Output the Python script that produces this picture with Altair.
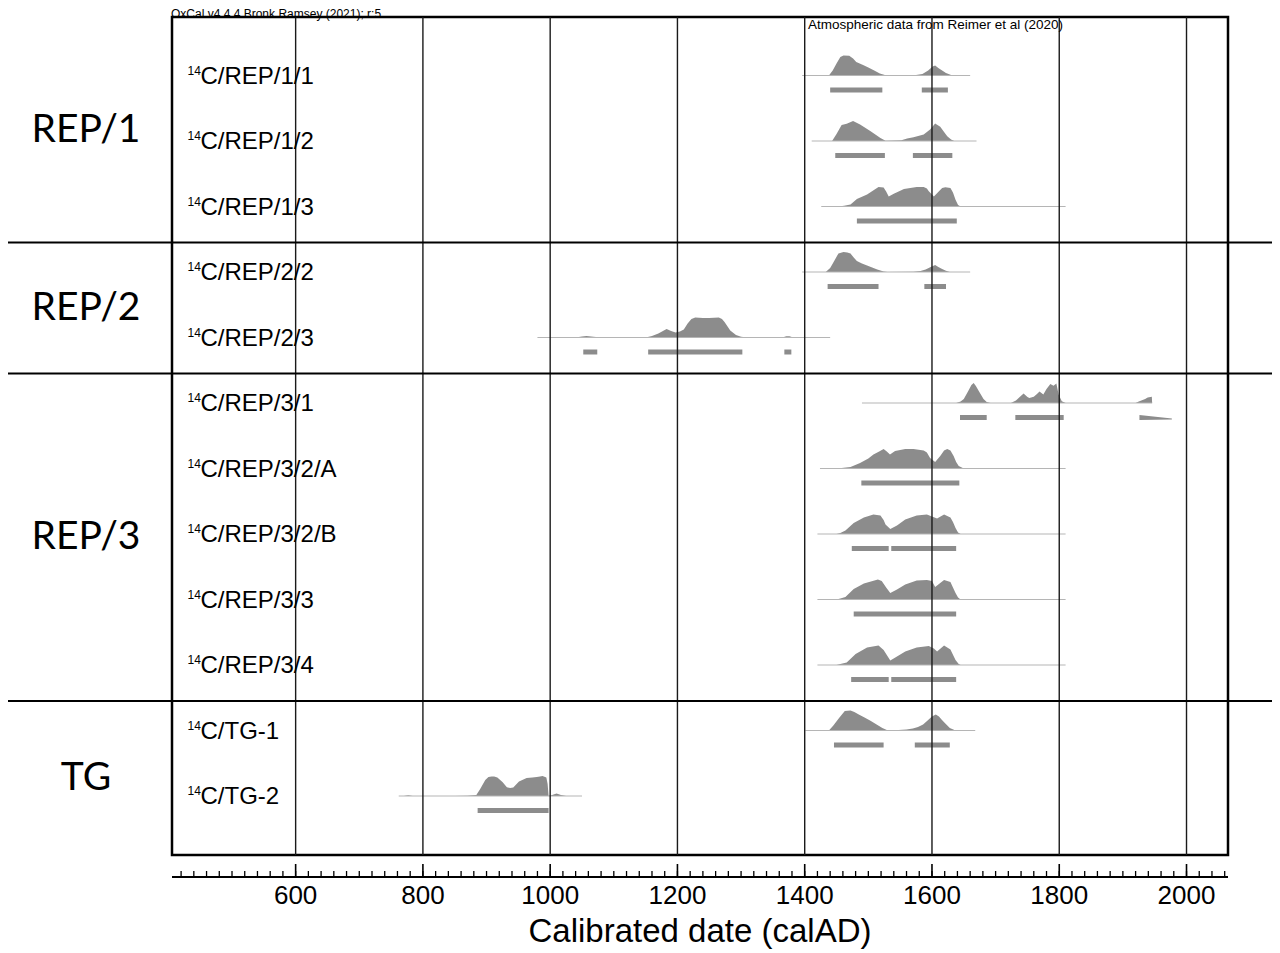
import altair as alt
import pandas as pd

# ---------------- data ----------------
names = ["REP/1/1", "REP/1/2", "REP/1/3", "REP/2/2", "REP/2/3", "REP/3/1",
         "REP/3/2/A", "REP/3/2/B", "REP/3/3", "REP/3/4", "TG-1", "TG-2"]
groups = ["REP/1", "REP/2", "REP/3", "TG"]
group_last = [2, 4, 9, 11]

line_start = [1396, 1411, 1426, 1396, 980, 1490, 1424, 1420, 1420, 1420, 1401, 762]
line_end = [1660, 1670, 1810, 1660, 1440, 1946, 1810, 1810, 1810, 1810, 1668, 1050]

rep1_1_yr = [1438, 1444, 1450, 1456, 1461, 1470, 1476, 1481, 1490, 1500, 1510, 1518, 1526, 1535, 1555, 1575, 1585, 1594, 1601, 1605, 1610, 1616, 1622, 1630, 1636]
rep1_1_p = [0, 0.25, 0.6, 0.92, 1.0, 0.99, 0.85, 0.68, 0.55, 0.4, 0.24, 0.1, 0.02, 0, 0.01, 0.03, 0.08, 0.25, 0.45, 0.5, 0.38, 0.25, 0.12, 0.02, 0]
rep1_2_yr = [1443, 1450, 1458, 1466, 1476, 1487, 1495, 1503, 1511, 1519, 1527, 1540, 1552, 1561, 1571, 1587, 1597, 1605, 1613, 1619, 1624, 1630, 1635]
rep1_2_p = [0, 0.35, 0.8, 0.86, 1.0, 0.83, 0.66, 0.5, 0.32, 0.15, 0.01, 0.02, 0.04, 0.12, 0.19, 0.32, 0.58, 0.88, 0.71, 0.45, 0.24, 0.08, 0]
rep1_3_yr = [1452, 1462, 1472, 1482, 1498, 1510, 1516, 1524, 1528, 1532, 1540, 1556, 1566, 1576, 1587, 1592, 1595, 1603, 1611, 1616, 1621, 1629, 1633, 1637, 1641, 1645]
rep1_3_p = [0, 0.04, 0.1, 0.37, 0.6, 0.85, 0.97, 0.95, 0.75, 0.5, 0.64, 0.88, 0.93, 0.98, 0.97, 0.9, 0.76, 0.5, 0.76, 0.92, 0.96, 0.93, 0.7, 0.34, 0.08, 0]
rep2_2_yr = [1433, 1440, 1445, 1453, 1461, 1467, 1472, 1477, 1482, 1490, 1498, 1506, 1514, 1524, 1530, 1571, 1582, 1590, 1598, 1605, 1610, 1616, 1622, 1628]
rep2_2_p = [0, 0.2, 0.47, 0.93, 1.0, 0.98, 0.92, 0.72, 0.55, 0.43, 0.33, 0.22, 0.12, 0.02, 0, 0.01, 0.05, 0.13, 0.25, 0.35, 0.25, 0.15, 0.06, 0]
rep2_3_yr = [1040, 1050, 1057, 1068, 1080, 1130, 1152, 1160, 1170, 1183, 1190, 1197, 1204, 1210, 1216, 1222, 1228, 1240, 1250, 1265, 1270, 1274, 1283, 1292, 1300, 1310, 1365, 1371, 1376, 1382]
rep2_3_p = [0, 0.05, 0.07, 0.04, 0, 0.01, 0.01, 0.07, 0.2, 0.42, 0.33, 0.25, 0.3, 0.4, 0.7, 0.92, 1.0, 0.98, 0.97, 1.0, 0.92, 0.78, 0.35, 0.12, 0.04, 0, 0, 0.06, 0.06, 0]
rep3_1_yr = [1638, 1645, 1650, 1657, 1662, 1665.5, 1669, 1674, 1681, 1686, 1692, 1724, 1732, 1737, 1744, 1750, 1753, 1760, 1765, 1769, 1775, 1780, 1786, 1791, 1795.5, 1799, 1804, 1810, 1920, 1925, 1930, 1935, 1939, 1945.5, 1946]
rep3_1_p = [0, 0.08, 0.2, 0.6, 0.9, 1.0, 0.85, 0.58, 0.2, 0.05, 0, 0, 0.12, 0.28, 0.48, 0.3, 0.25, 0.31, 0.45, 0.57, 0.43, 0.7, 0.95, 0.86, 0.97, 0.43, 0.09, 0, 0, 0.08, 0.14, 0.2, 0.28, 0.31, 0]
rep3_2a_yr = [1445, 1458, 1472, 1487, 1500, 1508, 1517, 1524, 1529, 1534, 1542, 1558, 1571, 1587, 1592, 1597, 1605, 1613, 1619, 1624, 1629, 1634, 1638, 1642, 1650]
rep3_2a_p = [0, 0.02, 0.08, 0.28, 0.5, 0.7, 0.85, 0.97, 0.85, 0.7, 0.87, 0.97, 0.98, 0.9, 0.8, 0.53, 0.33, 0.62, 0.9, 0.98, 0.9, 0.62, 0.32, 0.12, 0]
rep3_2b_yr = [1450, 1456, 1464, 1477, 1493, 1508, 1519, 1524, 1527, 1534.5, 1545, 1558, 1576, 1592, 1600, 1608, 1619, 1629, 1633, 1637, 1641, 1645]
rep3_2b_p = [0, 0.05, 0.17, 0.55, 0.83, 0.98, 0.92, 0.7, 0.47, 0.25, 0.42, 0.72, 0.92, 0.97, 0.88, 0.77, 0.97, 0.83, 0.6, 0.3, 0.08, 0]
rep3_3_yr = [1450, 1456, 1464, 1477, 1493, 1515, 1521, 1528, 1534.5, 1545, 1558, 1576, 1592, 1600, 1605, 1619, 1629, 1633, 1637, 1641, 1645]
rep3_3_p = [0, 0.05, 0.13, 0.53, 0.8, 1.0, 0.92, 0.6, 0.33, 0.5, 0.75, 0.95, 0.98, 0.92, 0.63, 0.97, 0.87, 0.6, 0.33, 0.1, 0]
rep3_4_yr = [1450, 1456, 1466, 1480, 1498, 1516, 1524, 1530, 1534.5, 1545, 1558, 1576, 1595, 1603, 1608, 1619, 1629, 1637, 1642, 1645]
rep3_4_p = [0, 0.05, 0.12, 0.55, 0.87, 0.97, 0.75, 0.45, 0.22, 0.42, 0.67, 0.88, 0.95, 0.83, 0.67, 0.97, 0.78, 0.25, 0.05, 0]
tg1_yr = [1438, 1445, 1454, 1463, 1472, 1478, 1485, 1494, 1504, 1513, 1522, 1529, 1535, 1560, 1570, 1578, 1586, 1594, 1600, 1606, 1611, 1615, 1621, 1628, 1637]
tg1_p = [0, 0.25, 0.63, 0.97, 1.0, 0.93, 0.8, 0.65, 0.47, 0.3, 0.13, 0.02, 0, 0.05, 0.1, 0.18, 0.3, 0.52, 0.7, 0.8, 0.7, 0.55, 0.35, 0.13, 0]
tg2_yr = [770, 777, 784, 850, 870, 884, 890, 898, 903, 908, 912, 917, 925, 932, 937, 942, 951, 963, 972, 979, 984, 988, 994, 996, 997.5, 1003, 1010, 1017, 1025]
tg2_p = [0, 0.04, 0, 0, 0.01, 0.05, 0.35, 0.8, 0.95, 0.98, 0.97, 0.93, 0.7, 0.44, 0.4, 0.43, 0.72, 0.9, 0.93, 0.95, 0.97, 1.0, 0.93, 0.6, 0, 0.05, 0.12, 0.05, 0]

curves = [(rep1_1_yr, rep1_1_p), (rep1_2_yr, rep1_2_p), (rep1_3_yr, rep1_3_p),
          (rep2_2_yr, rep2_2_p), (rep2_3_yr, rep2_3_p), (rep3_1_yr, rep3_1_p),
          (rep3_2a_yr, rep3_2a_p), (rep3_2b_yr, rep3_2b_p), (rep3_3_yr, rep3_3_p),
          (rep3_4_yr, rep3_4_p), (tg1_yr, tg1_p), (tg2_yr, tg2_p)]

bar_sample = ["REP/1/1", "REP/1/1", "REP/1/2", "REP/1/2", "REP/1/3", "REP/2/2", "REP/2/2",
              "REP/2/3", "REP/2/3", "REP/2/3", "REP/3/1", "REP/3/1", "REP/3/2/A",
              "REP/3/2/B", "REP/3/2/B", "REP/3/3", "REP/3/4", "REP/3/4", "TG-1", "TG-1", "TG-2"]
bar_from = [1440, 1584, 1448, 1570, 1482, 1436, 1588, 1052, 1154, 1368, 1644, 1731, 1489,
            1474, 1536, 1477, 1473, 1536, 1446, 1573, 886]
bar_to = [1522, 1625, 1526, 1632, 1639, 1516, 1622, 1074, 1302, 1379, 1686, 1807, 1643,
          1532, 1638, 1638, 1532, 1638, 1524, 1628, 997.5]

wedge_sample = "REP/3/1"
wedge_yr = [1926, 1977]

grid_years = [600, 800, 1000, 1200, 1400, 1600, 1800, 2000]
minor_years = list(range(420, 2061, 20))
tick_labels = ["600", "800", "1000", "1200", "1400", "1600", "1800", "2000"]

top_left_text = "OxCal v4.4.4 Bronk Ramsey (2021); r:5"
top_right_text = "Atmospheric data from Reimer et al (2020)"
x_title = "Calibrated date (calAD)"

# ---------------- layout constants ----------------
W, H = 1056, 838
ROW_PX = 65.5
FIRST_PX = 58.5
Y_DOMAIN = [-FIRST_PX / ROW_PX, (H - FIRST_PX) / ROW_PX]
PEAK = 20 / ROW_PX
BAR_OFF = 14.5 / ROW_PX
GREY = "#8c8c8c"
FONT = "Liberation Sans"

xs = alt.Scale(domain=[405.7, 2065.2], nice=False, zero=False)
ys = alt.Scale(domain=Y_DOMAIN, nice=False, zero=False, reverse=True)

row_of = {n: i for i, n in enumerate(names)}

# ---------------- tables ----------------
area_rows = []
for n, (yr, p) in zip(names, curves):
    r = row_of[n]
    for a, b in zip(yr, p):
        area_rows.append({"name": n, "yr": a, "ytop": r - b * PEAK, "ybase": r})
df_area = pd.DataFrame(area_rows)

df_line = pd.DataFrame({"name": names, "x0": line_start, "x1": line_end,
                        "row": list(range(len(names)))})
df_bar = pd.DataFrame({"name": bar_sample, "x0": bar_from, "x1": bar_to,
                       "by": [row_of[n] + BAR_OFF for n in bar_sample]})
wr = row_of[wedge_sample] + BAR_OFF
df_wedge = pd.DataFrame({"yr": wedge_yr,
                         "ytop": [wr - 2.5 / ROW_PX, wr + 1.0 / ROW_PX],
                         "ybot": [wr + 2.5 / ROW_PX, wr + 2.0 / ROW_PX]})

df_lab = pd.DataFrame({"row": list(range(len(names))), "sup": ["14"] * len(names),
                       "main": ["C/" + n for n in names]})

div_rows = [g + 0.55 for g in group_last[:-1]]
bounds = [Y_DOMAIN[0]] + div_rows + [Y_DOMAIN[1]]
df_group = pd.DataFrame({"g": groups,
                         "c": [(bounds[i] + bounds[i + 1]) / 2 for i in range(len(groups))]})
df_div = pd.DataFrame({"d": div_rows})
df_grid = pd.DataFrame({"yr": grid_years, "lab": tick_labels})
df_minor = pd.DataFrame({"yr": minor_years})
df_top = pd.DataFrame({"t": [top_left_text]})
df_top2 = pd.DataFrame({"t": [top_right_text]})
df_title = pd.DataFrame({"t": [x_title]})

# ---------------- layers ----------------
areas = alt.Chart(df_area).mark_area(color=GREY, fill=GREY, opacity=1).encode(
    x=alt.X("yr:Q", scale=xs, axis=None),
    y=alt.Y("ytop:Q", scale=ys, axis=None, stack=None),
    y2=alt.Y2("ybase:Q"),
    detail="name:N",
)

baselines = alt.Chart(df_line).mark_rule(color="#b5b5b5", strokeWidth=1).encode(
    x=alt.X("x0:Q", scale=xs, axis=None), x2="x1:Q",
    y=alt.Y("row:Q", scale=ys, axis=None),
)

bars = alt.Chart(df_bar).mark_rule(color=GREY, strokeWidth=5, strokeCap="butt").encode(
    x=alt.X("x0:Q", scale=xs, axis=None), x2="x1:Q",
    y=alt.Y("by:Q", scale=ys, axis=None),
)

wedge = alt.Chart(df_wedge).mark_area(color=GREY, fill=GREY, opacity=1).encode(
    x=alt.X("yr:Q", scale=xs, axis=None),
    y=alt.Y("ytop:Q", scale=ys, axis=None, stack=None),
    y2=alt.Y2("ybot:Q"),
)

grid = alt.Chart(df_grid).mark_rule(color="#1a1a1a", strokeWidth=1.4).encode(
    x=alt.X("yr:Q", scale=xs, axis=None),
    y=alt.value(0), y2=alt.value(H),
)

dividers = alt.Chart(df_div).mark_rule(color="black", strokeWidth=2).encode(
    y=alt.Y("d:Q", scale=ys, axis=None),
    x=alt.value(-164), x2=alt.value(W + 44),
)

group_text = alt.Chart(df_group).mark_text(
    font="Lato", fontSize=39, align="center", baseline="middle", color="black"
).encode(
    y=alt.Y("c:Q", scale=ys, axis=None), x=alt.value(-86), text="g:N",
)

sup_text = alt.Chart(df_lab).mark_text(
    font=FONT, fontSize=12, align="left", baseline="alphabetic", dy=-1, color="black"
).encode(
    y=alt.Y("row:Q", scale=ys, axis=None), x=alt.value(15.5), text="sup:N",
)

main_text = alt.Chart(df_lab).mark_text(
    font=FONT, fontSize=24, align="left", baseline="alphabetic", dy=8, color="black"
).encode(
    y=alt.Y("row:Q", scale=ys, axis=None), x=alt.value(28.5), text="main:N",
)

top_left = alt.Chart(df_top).mark_text(
    font=FONT, fontSize=12, align="left", baseline="alphabetic", color="black"
).encode(x=alt.value(-1), y=alt.value(0.8), text="t:N")

top_right = alt.Chart(df_top2).mark_text(
    font=FONT, fontSize=13.5, align="left", baseline="alphabetic", color="black"
).encode(x=alt.value(636), y=alt.value(12), text="t:N")

axis_line = alt.Chart(df_title).mark_rule(color="black", strokeWidth=2).encode(
    x=alt.value(0), x2=alt.value(W), y=alt.value(860),
)

minor_ticks = alt.Chart(df_minor).mark_rule(color="black", strokeWidth=1.3).encode(
    x=alt.X("yr:Q", scale=xs, axis=None), y=alt.value(854), y2=alt.value(860),
)

major_ticks = alt.Chart(df_grid).mark_rule(color="black", strokeWidth=1.6).encode(
    x=alt.X("yr:Q", scale=xs, axis=None), y=alt.value(847), y2=alt.value(860),
)

tick_text = alt.Chart(df_grid).mark_text(
    font=FONT, fontSize=26, align="center", baseline="alphabetic", color="black"
).encode(x=alt.X("yr:Q", scale=xs, axis=None), y=alt.value(887), text="lab:N")

title_text = alt.Chart(df_title).mark_text(
    font=FONT, fontSize=33, align="center", baseline="alphabetic", color="black"
).encode(x=alt.value(W / 2), y=alt.value(925), text="t:N")

chart = alt.layer(
    areas, baselines, bars, wedge, grid, dividers, group_text, sup_text, main_text,
    top_left, top_right, axis_line, minor_ticks, major_ticks, tick_text, title_text,
).properties(
    width=W, height=H,
    padding={"left": 164, "top": 9, "right": 44, "bottom": 100},
    autosize=alt.AutoSizeParams(type="none"),
    background="white",
).configure_view(
    stroke="black", strokeWidth=2.5
)

chart.save("out.html", embed_options={"renderer": "svg", "actions": False})
